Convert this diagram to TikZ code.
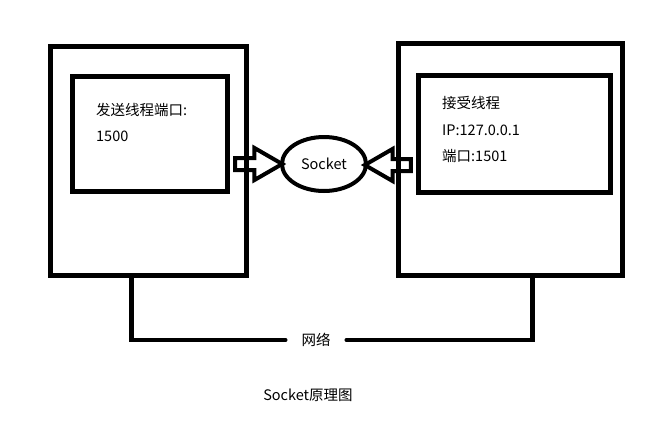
\documentclass[tikz,border=0pt]{standalone}
\usepackage{fontspec}
\setmainfont{Noto Sans CJK SC}
\usepackage{tikz}
\usetikzlibrary{shapes.arrows,shapes.geometric}

\begin{document}
\begin{tikzpicture}[x=1pt, y=-1pt,
		box_style/.style={rectangle,draw=black,line width=5pt,inner sep=0pt},
		text_style/.style={anchor=west,inner sep=0pt,font=\fontsize{14.5}{18}\selectfont},
		arrow_style/.style={single arrow,draw=black,line width=4pt,inner xsep=0pt,inner ysep=4pt,
			single arrow head extend=10pt,single arrow tip angle=60,minimum height=47pt},
		wire_style/.style={draw=black,line width=4.5pt,line cap=round}]
		
		\useasboundingbox (0,0) rectangle (660,429);
		
		\node[box_style,minimum width=196.5pt,minimum height=228.5pt] (lo) at (148.25,160.75) {};
		\node[box_style,minimum width=155pt,minimum height=115pt] (li) at (150,133.5) {};
		\node[box_style,minimum width=224.5pt,minimum height=232pt] (ro) at (510.25,159) {};
		\node[box_style,minimum width=192pt,minimum height=116.5pt] (ri) at (514,133.75) {};
		
		\node[text_style] (send) at (96,110) {发送线程端口:};
		\node[text_style] (sport) at (96,136) {1500};
		\node[text_style] (recv) at (442,103) {接受线程};
		\node[text_style] (ip) at (442,130) {IP:127.0.0.1};
		\node[text_style] (rport) at (442,156) {端口:1501};
		
		\node[ellipse,draw=black,line width=4pt,minimum width=84pt,minimum height=54pt,
			font=\fontsize{14.5}{18}\selectfont] (sock) at (324,164) {Socket};
		\node[arrow_style] (la) at (253.5,164) {};
		\node[arrow_style,shape border rotate=180,minimum height=46pt] (ra) at (393,165) {};
		
		\node[inner xsep=16pt,inner ysep=0pt,font=\fontsize{14.5}{18}\selectfont] (net) at (316,340) {网络};
		\draw[wire_style]  ([xshift=-17pt]lo.south) |- (net);
		\draw[wire_style]  (net) -| ([xshift=22pt]ro.south);
		
		\node[font=\fontsize{14.5}{18}\selectfont] (title) at (308,395) {Socket原理图};
		
\end{tikzpicture}
\end{document}
